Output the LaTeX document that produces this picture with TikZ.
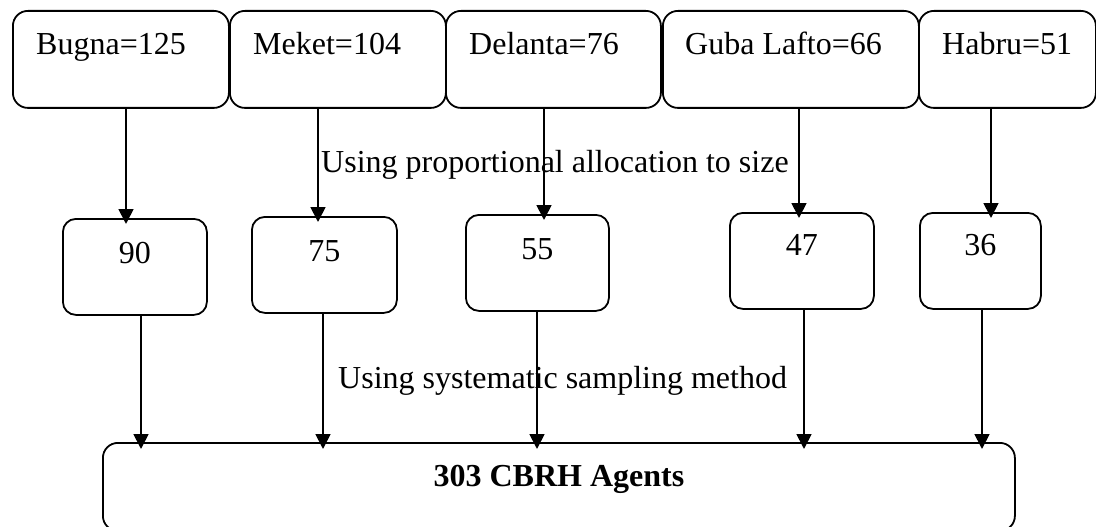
\documentclass[tikz,border=0pt]{standalone}
\usepackage{fontspec}
\setmainfont{Liberation Serif}
\usetikzlibrary{arrows.meta,calc}
\begin{document}
\begin{tikzpicture}[x=1pt,y=-1pt,
  box/.style={draw,line width=1.8pt,rounded corners=15pt,anchor=north west,inner sep=0pt},
  topbox/.style={box,minimum height=97pt},
  midbox/.style={box,rounded corners=13pt,minimum height=96pt},
  lbl/.style={font=\fontsize{32}{36}\selectfont,inner sep=0pt},
  arr/.style={line width=1.8pt,-{Triangle[length=15pt,width=15pt]},shorten >=-6pt}]
\useasboundingbox (0,0) rectangle (1096,527);
% top boxes
\node[topbox,minimum width=216pt] (t1) at (12,10) {};
\node[topbox,minimum width=216pt] (t2) at (229,10) {};
\node[topbox,minimum width=215pt] (t3) at (445,10) {};
\node[topbox,minimum width=256pt] (t4) at (662,10) {};
\node[topbox,minimum width=177pt] (t5) at (918,10) {};
\node[lbl,anchor=base west] (tt1) at ($(t1.north west)+(24,45)$) {Bugna=125};
\node[lbl,anchor=base west] (tt2) at ($(t2.north west)+(24,45)$) {Meket=104};
\node[lbl,anchor=base west] (tt3) at ($(t3.north west)+(24,45)$) {Delanta=76};
\node[lbl,anchor=base west] (tt4) at ($(t4.north west)+(23,45)$) {Guba Lafto=66};
\node[lbl,anchor=base west] (tt5) at ($(t5.north west)+(24,45)$) {Habru=51};
% middle boxes
\node[midbox,minimum width=144pt] (m1) at (62,218) {};
\node[midbox,minimum width=145pt] (m2) at (251,216) {};
\node[midbox,minimum width=143pt] (m3) at (465,214) {};
\node[midbox,minimum width=144pt] (m4) at (729,212) {};
\node[midbox,minimum width=121pt] (m5) at (919,212) {};
\node[lbl,anchor=base] (mt1) at ($(m1.north)+(0,45)$) {90};
\node[lbl,anchor=base] (mt2) at ($(m2.north)+(0,45)$) {75};
\node[lbl,anchor=base] (mt3) at ($(m3.north)+(0,45)$) {55};
\node[lbl,anchor=base] (mt4) at ($(m4.north)+(0,43)$) {47};
\node[lbl,anchor=base] (mt5) at ($(m5.north)+(0,43)$) {36};
% bottom box
\node[box,minimum width=912pt,minimum height=88pt] (b) at (102,442) {};
\node[lbl,anchor=base,font=\fontsize{32}{36}\selectfont\bfseries] (bt) at ($(b.north)+(0,44)$) {303 CBRH Agents};
% labels
\node[lbl,anchor=base west] (l1) at (321,172) {Using proportional allocation to size};
\node[lbl,anchor=base west] (l2) at (338,388) {Using systematic sampling method};
% arrow x positions
\coordinate (a1) at (126,0);
\coordinate (a2) at (318,0);
\coordinate (a3) at (544,0);
\coordinate (a4) at (799,0);
\coordinate (a5) at (991,0);
\coordinate (c1) at (141,0);
\coordinate (c2) at (323,0);
\coordinate (c3) at (537,0);
\coordinate (c4) at (804,0);
\coordinate (c5) at (982,0);
\foreach \i in {1,...,5}{
  \draw[arr] (t\i.south -| a\i) -- (m\i.north -| a\i);
  \draw[arr,shorten >=-7pt] (m\i.south -| c\i) -- (b.north -| c\i);
}
\end{tikzpicture}
\end{document}
